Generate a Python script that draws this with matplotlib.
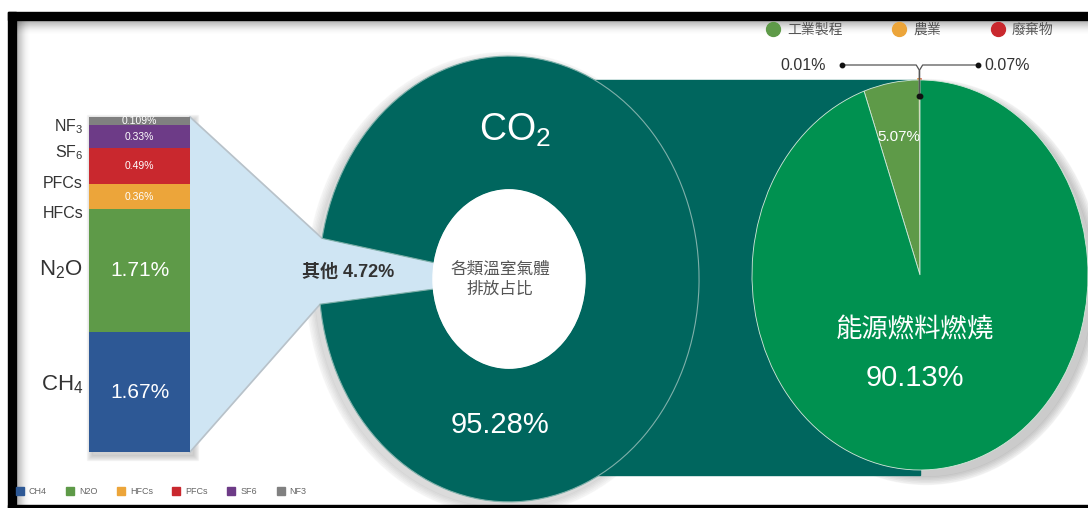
import numpy as np
import matplotlib
matplotlib.use('Agg')
import matplotlib.pyplot as plt
from matplotlib.patches import Rectangle, Polygon, Ellipse
from matplotlib.lines import Line2D

plt.rcParams['font.family'] = ['Liberation Sans', 'Noto Sans CJK TC']
plt.rcParams['mathtext.fontset'] = 'custom'
plt.rcParams['mathtext.rm'] = 'Liberation Sans'
plt.rcParams['mathtext.default'] = 'regular'

# 各類溫室氣體排放占比 (%)
total_labels = ['其他', 'CO$_2$']
total_share = [4.72, 95.28]

# 其他氣體拆分
gas_names = ['CH$_4$', 'N$_2$O', 'HFCs', 'PFCs', 'SF$_6$', 'NF$_3$']
gas_legend = ['CH4', 'N2O', 'HFCs', 'PFCs', 'SF6', 'NF3']
gas_share = [1.67, 1.71, 0.36, 0.49, 0.33, 0.109]
gas_colors = ['#2d5895', '#5e9a48', '#eca53a', '#c9282e', '#6d3b87', '#808080']

# CO2 排放來源
co2_sources = ['廢棄物', '農業', '工業製程', '能源燃料燃燒']
co2_share = [0.07, 0.01, 5.07, 90.13]
co2_colors = ['#c9282e', '#eca53a', '#5e9a48', '#009150']

TEAL = '#00665e'
LIGHT_BLUE = '#cfe5f3'
W, H = 1088, 508

fig = plt.figure(figsize=(W / 100, H / 100), dpi=100)


def box(x0, y0, x1, y1):
    return [x0 / W, 1 - y1 / H, (x1 - x0) / W, (y1 - y0) / H]


bg = fig.add_axes([0, 0, 1, 1])
bg.set_xlim(0, W)
bg.set_ylim(H, 0)
bg.axis('off')


def to_px(ax, x, y):
    return bg.transData.inverted().transform(ax.transData.transform((x, y)))


# --- donut: CO2 vs 其他
ax_d = fig.add_axes(box(318, 55, 700, 503))
wd, _ = ax_d.pie(total_share, colors=[LIGHT_BLUE, TEAL], startangle=169.5,
                 wedgeprops=dict(width=0.6, edgecolor='#7fb0aa', linewidth=0.8))
wd[0].set_edgecolor('none')
ax_d.add_patch(Ellipse((0, 0), 0.8, 0.8, color='white', zorder=3))
ax_d.set_aspect('auto')
ax_d.set_xlim(-1.005, 1.005)
ax_d.set_ylim(-1.005, 1.005)

# --- pie: CO2 sources
ax_p = fig.add_axes(box(752, 80, 1088, 470))
wp, _ = ax_p.pie(co2_share, colors=co2_colors, startangle=90,
                 wedgeprops=dict(edgecolor='#d5e9db', linewidth=0.6))
for w, c in zip(wp[:2], co2_colors[:2]):
    w.set_edgecolor(c)
    w.set_linewidth(2.5)
ax_p.set_aspect('auto')
ax_p.set_xlim(-1.0, 1.0)
ax_p.set_ylim(-1.0, 1.0)

# --- stacked bar of the other gases
ax_b = fig.add_axes(box(89, 117, 190, 452))
bottoms = np.concatenate([[0], np.cumsum(gas_share)[:-1]])
ax_b.bar(0, gas_share, bottom=bottoms, width=1, color=gas_colors)
ax_b.set_xlim(-0.5, 0.5)
ax_b.set_ylim(0, sum(gas_share))
ax_b.axis('off')
for v, b in zip(gas_share, bottoms):
    big = v > 1
    ax_b.text(0, b + v / 2, f'{v:g}%', ha='center', va='center', color='white',
              fontsize=15 if big else 7.5)

# shadows
for k in range(6):
    bg.add_patch(Ellipse((926, 282), 336 + 3 * k, 390 + 3 * k, color='#000',
                         alpha=0.035, zorder=0))
    bg.add_patch(Ellipse((505, 284), 382 + 3 * k, 448 + 3 * k, color='#000',
                         alpha=0.025, zorder=0))
    bg.add_patch(Rectangle((92 - k, 120 - k), 101 + 2 * k, 335 + 2 * k,
                           color='#000', alpha=0.03, zorder=0))

# teal band linking the donut to the CO2 pie
bg.add_patch(Rectangle((560, 80), 360, 395, color=TEAL, zorder=1))

# light blue fan from the bar to the 其他 slice
p_top = to_px(ax_d, np.cos(np.radians(wd[0].theta1)), np.sin(np.radians(wd[0].theta1)))
p_bot = to_px(ax_d, np.cos(np.radians(wd[0].theta2)), np.sin(np.radians(wd[0].theta2)))
fan = [(190, 117), tuple(p_top), tuple(p_bot), (190, 452)]
bg.add_patch(Polygon(fan, closed=True, color=LIGHT_BLUE, zorder=2))
bg.plot([190, p_top[0]], [117, p_top[1]], color='#b9c2c9', lw=1.2, zorder=2)
bg.plot([190, p_bot[0]], [452, p_bot[1]], color='#b9c2c9', lw=1.2, zorder=2)

# --- overlay for text, callouts and frame
ov = fig.add_axes([0, 0, 1, 1])
ov.set_xlim(0, W)
ov.set_ylim(H, 0)
ov.axis('off')

ov.text(515, 130, total_labels[1], color='white', fontsize=27, ha='center', va='center')
ov.text(500, 425, f'{total_share[1]:.2f}%', color='white', fontsize=21,
        ha='center', va='center')
ov.text(500, 279, '各類溫室氣體\n排放占比', color='#555555', fontsize=12,
        ha='center', va='center', linespacing=1.35)
ov.text(348, 272, f'{total_labels[0]} {total_share[0]:.2f}%', color='#333333',
        fontsize=13, fontweight='bold', ha='center', va='center')

# left-hand gas names
name_y = [385, 270, 214, 183, 153, 127]
for name, y, v in zip(gas_names, name_y, gas_share):
    ov.text(83, y, name, ha='right', va='center', color='#333333',
            fontsize=16 if v > 1 else 11.5)

# labels on the CO2 pie
mid = np.radians((wp[2].theta1 + wp[2].theta2) / 2)
lx, ly = to_px(ax_p, 0.72 * np.cos(mid), 0.72 * np.sin(mid))
ov.text(lx, ly, f'{co2_share[2]:.2f}%', color='white', fontsize=11,
        ha='center', va='center')
ov.text(915, 330, co2_sources[3], color='white', fontsize=19, ha='center', va='center')
ov.text(915, 378, f'{co2_share[3]:.2f}%', color='white', fontsize=21,
        ha='center', va='center')

# callouts for the two tiny slices
for i, (dot_x, side) in zip([1, 0], [(842, 'left'), (978, 'right')]):
    a = np.radians((wp[i].theta1 + wp[i].theta2) / 2)
    sx, sy = to_px(ax_p, 0.92 * np.cos(a), 0.92 * np.sin(a))
    step = 3 if side == 'left' else -3
    ov.plot([dot_x, sx - step, sx, sx], [65, 65, 70, sy], color='#555555', lw=0.9)
    ov.plot([dot_x, sx], [65, sy], 'o', color='#111111', ms=3.2, ls='none')
    if side == 'left':
        ov.text(dot_x - 16, 65, f'{co2_share[i]:.2f}%', ha='right', va='center',
                color='#333333', fontsize=11.5)
    else:
        ov.text(dot_x + 6, 65, f'{co2_share[i]:.2f}%', ha='left', va='center',
                color='#333333', fontsize=11.5)

# frame with a soft inner shadow
for k in range(14):
    a = 0.22 * (1 - k / 14) ** 2
    ov.plot([16, W], [20.5 + k, 20.5 + k], color='#000', alpha=a, lw=1, zorder=8)
    ov.plot([16.5 + k, 16.5 + k], [20, 505], color='#000', alpha=a, lw=1, zorder=8)
ov.add_patch(Rectangle((8, 12), W - 8, 8, color='black', zorder=9))
ov.add_patch(Rectangle((8, 12), 8, H - 12, color='black', zorder=9))
ov.add_patch(Rectangle((8, 505), W - 8, 3, color='black', zorder=9))

# legends
top_handles = [Line2D([], [], marker='o', ls='none', color=c, ms=10)
               for c in co2_colors[2::-1]]
fig.legend(top_handles, co2_sources[2::-1], loc='center left',
           bbox_to_anchor=(766 / W, 1 - 30 / H), ncol=3, frameon=False,
           fontsize=10, labelcolor='#555555', columnspacing=3.6,
           handletextpad=0.5, handlelength=1.0, borderpad=0, borderaxespad=0)

bot_handles = [Line2D([], [], marker='s', ls='none', color=c, ms=6)
               for c in gas_colors]
fig.legend(bot_handles, gas_legend, loc='center left',
           bbox_to_anchor=(16 / W, 1 - 492 / H), ncol=6, frameon=False,
           fontsize=6.5, labelcolor='#666666', columnspacing=2.2,
           handletextpad=0.6, handlelength=0.8, borderpad=0, borderaxespad=0)

fig.savefig('out.png', dpi=100)
